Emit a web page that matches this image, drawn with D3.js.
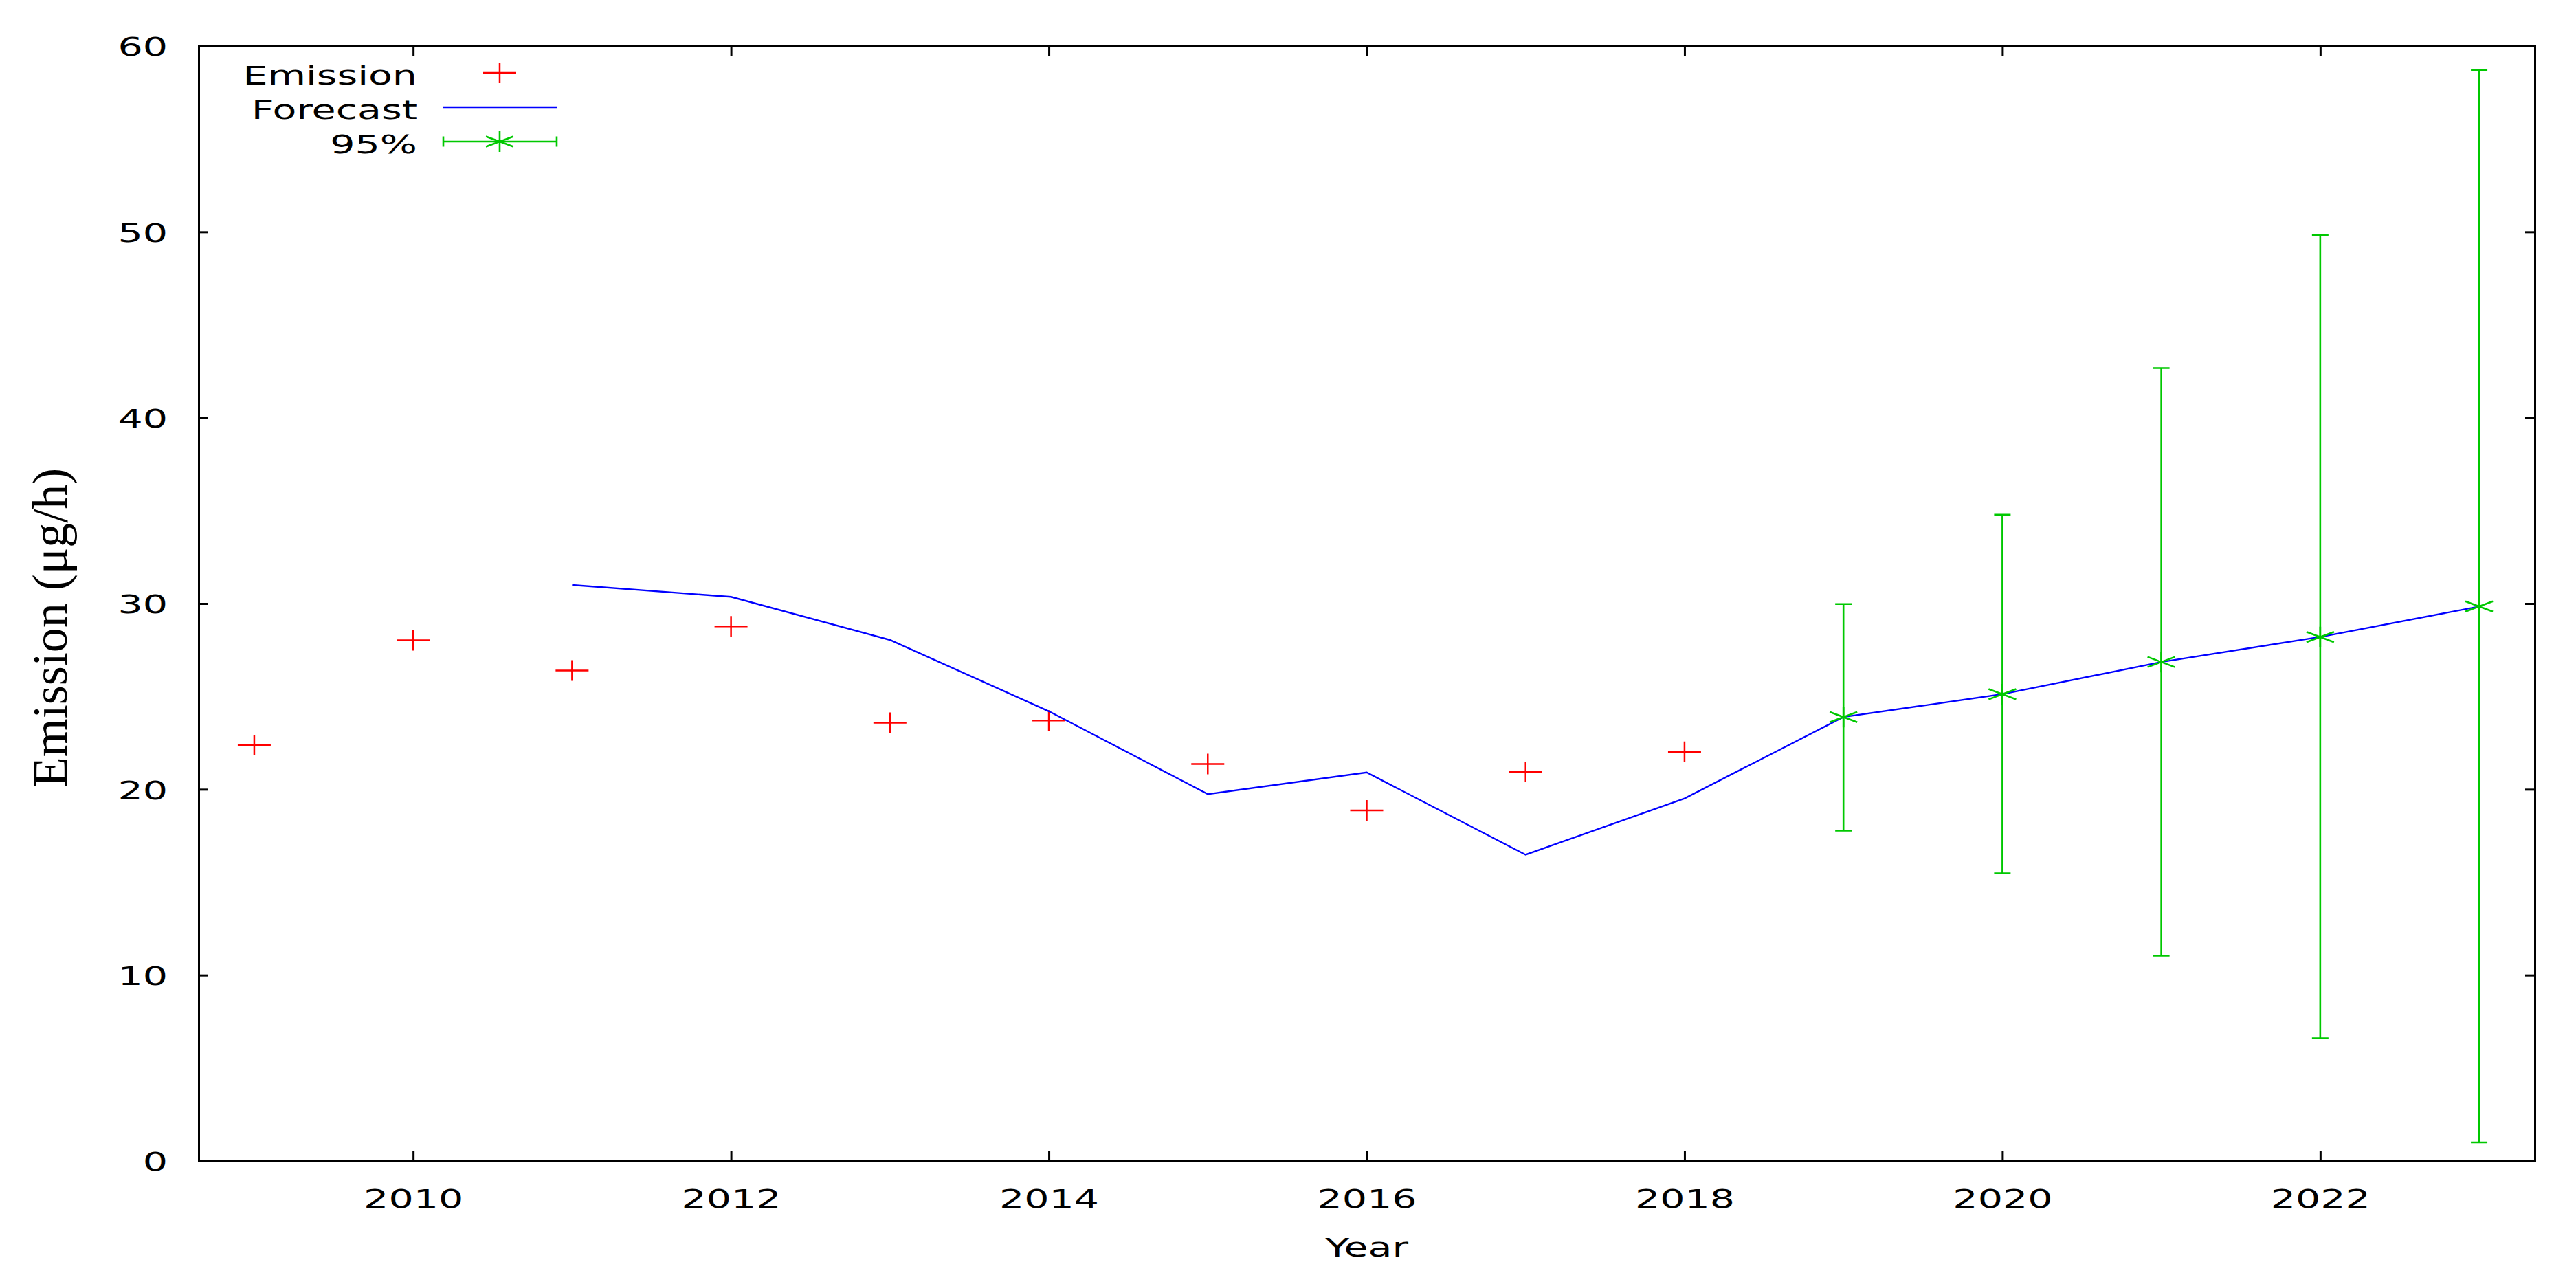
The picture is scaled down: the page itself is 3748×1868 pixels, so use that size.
<!DOCTYPE html>
<html>
<head>
<meta charset="utf-8">
<script src="https://cdn.jsdelivr.net/npm/d3@7"></script>
<style>
  html, body { margin: 0; padding: 0; background: #fff; }
  svg { display: block; }
</style>
</head>
<body>
<script>
// ---------------- data ----------------
const emissionYears = [2009, 2010, 2011, 2012, 2013, 2014, 2015, 2016, 2017, 2018];
const emissionValues = [22.38, 28.02, 26.39, 28.77, 23.58, 23.70, 21.36, 18.87, 20.94, 22.02];

const forecastYears = [2011, 2012, 2013, 2014, 2015, 2016, 2017, 2018, 2019, 2020, 2021, 2022, 2023];
const forecastValues = [31.0, 30.36, 28.04, 24.2, 19.74, 20.91, 16.48, 19.51, 23.89, 25.12, 26.85, 28.20, 29.84];

const ciYears = [2019, 2020, 2021, 2022, 2023];
const ciMid = [23.89, 25.12, 26.85, 28.20, 29.84];
const ciLow = [17.78, 15.48, 11.04, 6.60, 1.00];
const ciHigh = [29.97, 34.78, 42.67, 49.82, 58.70];

const xTicks = [2010, 2012, 2014, 2016, 2018, 2020, 2022];
const yTicks = [0, 10, 20, 30, 40, 50, 60];
const xDomain = [2008.65, 2023.35];
const yDomain = [0, 60];

const seriesNames = ["Emission", "Forecast", "95%"];
const xTitle = "Year";
const yTitle = "Emission (μg/h)";

// ---------------- layout ----------------
const W = 3748, H = 1868;
const L = 289, R = 3688, T = 67, B = 1689;
const sansFont = "'DejaVu Sans', Verdana, sans-serif";
const fs = 38, sx = 1.5;

const red = "#ff0000", blue = "#0000ff", green = "#00c800";

const svg = d3.select("body").append("svg").attr("width", W).attr("height", H);

const x = d3.scaleLinear().domain(xDomain).range([L, R]);
const y = d3.scaleLinear().domain(yDomain).range([B, T]);

function styleAxis(g) {
  g.select(".domain").attr("stroke", "#000").attr("stroke-width", 3).attr("stroke-linecap", "square");
  g.selectAll(".tick line").attr("stroke", "#000").attr("stroke-width", 3);
  g.selectAll("text").attr("font-family", sansFont).attr("font-size", fs).attr("fill", "#000");
}

// bottom axis
const gx = svg.append("g").attr("transform", `translate(0,${B})`)
  .call(d3.axisBottom(x).tickValues(xTicks).tickFormat(d3.format("d")).tickSizeInner(-14).tickSizeOuter(0));
styleAxis(gx);
gx.selectAll("text").attr("y", 68).attr("dy", 0).attr("transform", `scale(${sx},1)`);

// top axis (mirror)
const gt = svg.append("g").attr("transform", `translate(0,${T})`)
  .call(d3.axisTop(x).tickValues(xTicks).tickFormat("").tickSizeInner(-14).tickSizeOuter(0));
styleAxis(gt);

// left axis
const gy = svg.append("g").attr("transform", `translate(${L},0)`)
  .call(d3.axisLeft(y).tickValues(yTicks).tickFormat(d3.format("d")).tickSizeInner(-14).tickSizeOuter(0));
styleAxis(gy);
gy.selectAll("text").attr("x", -30).attr("dy", "0.36em").attr("text-anchor", "end").attr("transform", `scale(${sx},1)`);

// right axis (mirror)
const gr = svg.append("g").attr("transform", `translate(${R},0)`)
  .call(d3.axisRight(y).tickValues(yTicks).tickFormat("").tickSizeInner(-14).tickSizeOuter(0));
styleAxis(gr);

// axis titles
svg.append("g").attr("transform", `translate(${(L + R) / 2},1828) scale(${sx},1)`)
  .append("text").attr("text-anchor", "middle").attr("font-family", sansFont).attr("font-size", fs).text(xTitle);

svg.append("text")
  .attr("transform", `translate(97,913) rotate(-90)`)
  .attr("text-anchor", "middle")
  .attr("font-family", "'Liberation Serif', 'Times New Roman', serif")
  .attr("font-size", 72)
  .text(yTitle);

// ---------------- marks ----------------
const plusPath = (cx, cy) => `M${cx - 24},${cy}H${cx + 24}M${cx},${cy - 15}V${cy + 15}`;
const starPath = (cx, cy) => `M${cx - 20},${cy + 7.5}L${cx + 20},${cy - 7.5}M${cx - 20},${cy - 7.5}L${cx + 20},${cy + 7.5}M${cx},${cy - 15}V${cy + 15}`;

// Emission points
const emData = emissionYears.map((yr, i) => ({ yr, v: emissionValues[i] }));
svg.append("g").selectAll("path").data(emData).join("path")
  .attr("d", d => plusPath(x(d.yr), y(d.v)))
  .attr("stroke", red).attr("stroke-width", 2.5).attr("fill", "none");

// Forecast line
const fcData = forecastYears.map((yr, i) => ({ yr, v: forecastValues[i] }));
svg.append("path").datum(fcData)
  .attr("d", d3.line().x(d => x(d.yr)).y(d => y(d.v)))
  .attr("stroke", blue).attr("stroke-width", 2.4).attr("fill", "none").attr("stroke-linejoin", "miter");

// 95% error bars
const ciData = ciYears.map((yr, i) => ({ yr, mid: ciMid[i], lo: ciLow[i], hi: ciHigh[i] }));
const ciG = svg.append("g").attr("stroke", green).attr("stroke-width", 2.6).attr("fill", "none");
ciG.selectAll("path.bar").data(ciData).join("path").attr("class", "bar")
  .attr("d", d => {
    const cx = x(d.yr), y1 = y(d.lo), y2 = y(d.hi);
    return `M${cx},${y1}V${y2}M${cx - 12},${y1}H${cx + 12}M${cx - 12},${y2}H${cx + 12}`;
  });
ciG.selectAll("path.star").data(ciData).join("path").attr("class", "star")
  .attr("d", d => starPath(x(d.yr), y(d.mid)));

// ---------------- legend ----------------
const legendRows = [106, 156, 206];
const leg = svg.append("g");
seriesNames.forEach((name, i) => {
  leg.append("g").attr("transform", `translate(607,${legendRows[i] + 17}) scale(${sx},1)`)
    .append("text").attr("text-anchor", "end").attr("font-family", sansFont).attr("font-size", fs).text(name);
});
leg.append("path").attr("d", plusPath(727, legendRows[0]))
  .attr("stroke", red).attr("stroke-width", 2.5).attr("fill", "none");
leg.append("path").attr("d", `M645,${legendRows[1]}H810`)
  .attr("stroke", blue).attr("stroke-width", 2.4);
leg.append("path")
  .attr("d", `M645,${legendRows[2]}H810M645,${legendRows[2] - 7.5}V${legendRows[2] + 7.5}M810,${legendRows[2] - 7.5}V${legendRows[2] + 7.5}`)
  .attr("stroke", green).attr("stroke-width", 2.6).attr("fill", "none");
leg.append("path").attr("d", starPath(727, legendRows[2]))
  .attr("stroke", green).attr("stroke-width", 2.6).attr("fill", "none");
</script>
</body>
</html>
